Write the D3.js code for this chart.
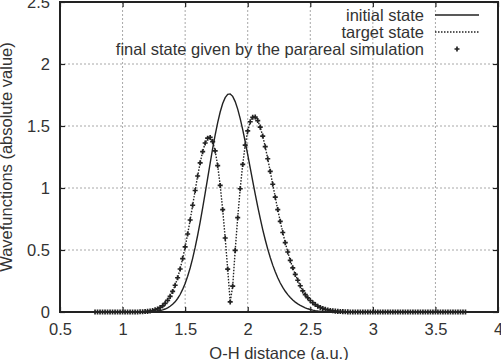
<!DOCTYPE html>
<html>
<head>
<meta charset="utf-8">
<script src="https://cdn.jsdelivr.net/npm/d3@7"></script>
<style>
  body { margin: 0; background: #fff; }
  svg { display: block; font-family: "Liberation Sans", Arial, sans-serif; }
</style>
</head>
<body>
<div id="chart"></div>
<script>
// O-H distance grid (a.u.)
const distance = [
  0.78,0.80,0.82,0.84,0.86,0.88,0.90,0.92,0.94,0.96,
  0.98,1.00,1.02,1.04,1.06,1.08,1.10,1.12,1.14,1.16,
  1.18,1.20,1.22,1.24,1.26,1.28,1.30,1.32,1.34,1.36,
  1.38,1.40,1.42,1.44,1.46,1.48,1.50,1.52,1.54,1.56,
  1.58,1.60,1.62,1.64,1.66,1.68,1.70,1.72,1.74,1.76,
  1.78,1.80,1.82,1.84,1.86,1.88,1.90,1.92,1.94,1.96,
  1.98,2.00,2.02,2.04,2.06,2.08,2.10,2.12,2.14,2.16,
  2.18,2.20,2.22,2.24,2.26,2.28,2.30,2.32,2.34,2.36,
  2.38,2.40,2.42,2.44,2.46,2.48,2.50,2.52,2.54,2.56,
  2.58,2.60,2.62,2.64,2.66,2.68,2.70,2.72,2.74,2.76,
  2.78,2.80,2.82,2.84,2.86,2.88,2.90,2.92,2.94,2.96,
  2.98,3.00,3.02,3.04,3.06,3.08,3.10,3.12,3.14,3.16,
  3.18,3.20,3.22,3.24,3.26,3.28,3.30,3.32,3.34,3.36,
  3.38,3.40,3.42,3.44,3.46,3.48,3.50,3.52,3.54,3.56,
  3.58,3.60,3.62,3.64,3.66,3.68,3.70,3.72,3.74
];

const initialState = [
  0,0,0,0,0,0,0,0,0,0,
  0,0,0,0,0,0,0,0,0,0,
  0.001,0.002,0.003,0.004,0.006,0.008,0.012,0.017,0.024,0.033,
  0.046,0.062,0.082,0.109,0.141,0.182,0.230,0.288,0.355,0.433,
  0.521,0.619,0.725,0.839,0.958,1.080,1.201,1.319,1.429,1.528,
  1.613,1.681,1.729,1.755,1.759,1.739,1.697,1.636,1.560,1.471,
  1.373,1.269,1.163,1.056,0.951,0.850,0.755,0.665,0.583,0.507,
  0.439,0.378,0.324,0.276,0.234,0.198,0.167,0.140,0.117,0.097,
  0.080,0.066,0.054,0.044,0.034,0.026,0.020,0.015,0.011,0.008,
  0.006,0.004,0.003,0.002,0.001,0,0,0,0,0,
  0,0,0,0,0,0,0,0,0,0,
  0,0,0,0,0,0,0,0,0,0,
  0,0,0,0,0,0,0,0,0,0,
  0,0,0,0,0,0,0,0,0,0,
  0,0,0,0,0,0,0,0,0
];

const targetState = [
  0,0,0,0,0,0,0,0,0,0,
  0,0,0,0,0,0,0,0,0.002,0.002,
  0.004,0.005,0.008,0.012,0.018,0.025,0.036,0.050,0.070,0.094,
  0.126,0.166,0.216,0.276,0.347,0.431,0.525,0.629,0.742,0.861,
  0.980,1.097,1.203,1.293,1.363,1.402,1.408,1.374,1.299,1.181,
  1.021,0.825,0.597,0.346,0.081,0.209,0.497,0.761,0.994,1.190,
  1.346,1.460,1.534,1.570,1.572,1.544,1.491,1.419,1.333,1.236,
  1.134,1.030,0.926,0.826,0.731,0.641,0.559,0.484,0.416,0.356,
  0.303,0.256,0.212,0.170,0.140,0.115,0.093,0.075,0.060,0.047,
  0.037,0.029,0.022,0.017,0.013,0.010,0.007,0.005,0.004,0.003,
  0.002,0.001,0,0,0,0,0,0,0,0,
  0,0,0,0,0,0,0,0,0,0,
  0,0,0,0,0,0,0,0,0,0,
  0,0,0,0,0,0,0,0,0,0,
  0,0,0,0,0,0,0,0,0
];

// parareal result lies on top of the target curve
const finalState = targetState;

const xTicks = [0.5, 1, 1.5, 2, 2.5, 3, 3.5, 4];
const xTickLabels = ["0.5", "1", "1.5", "2", "2.5", "3", "3.5", "4"];
const yTicks = [0, 0.5, 1, 1.5, 2, 2.5];
const yTickLabels = ["0", "0.5", "1", "1.5", "2", "2.5"];
const legendLabels = ["initial state", "target state", "final state given by the parareal simulation"];

const width = 501, height = 360;
const margin = {top: 2, right: 3, bottom: 48, left: 60};
const ink = "#222";
const fontSize = "16.5px";

const x = d3.scaleLinear().domain([0.5, 4]).range([margin.left, width - margin.right]);
const y = d3.scaleLinear().domain([0, 2.5]).range([height - margin.bottom, margin.top]);

const svg = d3.select("#chart")
  .append("svg")
  .attr("width", width)
  .attr("height", height);

// grid
const grid = svg.append("g")
  .attr("stroke", "#a8a8a8")
  .attr("stroke-width", 1)
  .attr("stroke-dasharray", "2,2");

grid.selectAll(".vgrid")
  .data(xTicks.slice(1, -1))
  .join("line")
  .attr("x1", d => x(d)).attr("x2", d => x(d))
  .attr("y1", y(0)).attr("y2", y(2.5));

grid.selectAll(".hgrid")
  .data(yTicks.slice(1, -1))
  .join("line")
  .attr("y1", d => y(d)).attr("y2", d => y(d))
  .attr("x1", x(0.5)).attr("x2", x(4));

// curves
const pts = (vals) => distance.map((d, i) => [d, vals[i]]);
const line = d3.line().x(d => x(d[0])).y(d => y(d[1]));

svg.append("path")
  .datum(pts(initialState))
  .attr("fill", "none")
  .attr("stroke", ink)
  .attr("stroke-width", 1.4)
  .attr("d", line);

svg.append("path")
  .datum(pts(targetState))
  .attr("fill", "none")
  .attr("stroke", ink)
  .attr("stroke-width", 1.4)
  .attr("stroke-dasharray", "1.5,1.5")
  .attr("d", line);

const marker = d3.symbol().type(d3.symbolCross).size(14);

svg.append("g")
  .selectAll("path")
  .data(pts(finalState))
  .join("path")
  .attr("transform", d => `translate(${x(d[0])},${y(d[1])})`)
  .attr("d", marker)
  .attr("fill", ink);

// axes (ticks point inward on all four sides)
const fmtX = d => xTickLabels[xTicks.indexOf(d)];
const fmtY = d => yTickLabels[yTicks.indexOf(d)];

const styleAxis = g => {
  g.select(".domain").remove();
  g.selectAll(".tick line").attr("stroke", ink).attr("stroke-width", 1.2);
  g.selectAll(".tick text")
    .attr("fill", "#333")
    .style("font-size", fontSize)
    .style("font-family", "'Liberation Sans', Arial, sans-serif");
};

svg.append("g")
  .attr("transform", `translate(0,${y(0)})`)
  .call(d3.axisBottom(x).tickValues(xTicks).tickFormat(fmtX).tickSize(-5).tickPadding(11))
  .call(styleAxis);

svg.append("g")
  .attr("transform", `translate(${x(0.5)},0)`)
  .call(d3.axisLeft(y).tickValues(yTicks).tickFormat(fmtY).tickSize(-5).tickPadding(10))
  .call(styleAxis);

svg.append("g")
  .attr("transform", `translate(0,${y(2.5)})`)
  .call(d3.axisTop(x).tickValues(xTicks).tickFormat("").tickSize(-5))
  .call(styleAxis);

svg.append("g")
  .attr("transform", `translate(${x(4)},0)`)
  .call(d3.axisRight(y).tickValues(yTicks).tickFormat("").tickSize(-5))
  .call(styleAxis);

// frame
svg.append("rect")
  .attr("x", x(0.5)).attr("y", y(2.5))
  .attr("width", x(4) - x(0.5))
  .attr("height", y(0) - y(2.5))
  .attr("fill", "none")
  .attr("stroke", ink)
  .attr("stroke-width", 2);

// axis titles
svg.append("text")
  .attr("x", (x(0.5) + x(4)) / 2)
  .attr("y", 359)
  .attr("text-anchor", "middle")
  .attr("fill", "#333")
  .style("font-size", fontSize)
  .text("O-H distance (a.u.)");

svg.append("text")
  .attr("transform", `translate(12,${(y(0) + y(2.5)) / 2}) rotate(-90)`)
  .attr("text-anchor", "middle")
  .attr("fill", "#333")
  .style("font-size", fontSize)
  .text("Wavefunctions (absolute value)");

// legend
const legend = svg.append("g").attr("transform", "translate(0,15)");
const rowH = 17;

legend.selectAll("text")
  .data(legendLabels)
  .join("text")
  .attr("x", 424)
  .attr("y", (d, i) => i * rowH + 5.5)
  .attr("text-anchor", "end")
  .attr("fill", "#333")
  .style("font-size", fontSize)
  .text(d => d);

legend.append("line")
  .attr("x1", 435).attr("x2", 479)
  .attr("y1", 0).attr("y2", 0)
  .attr("stroke", ink).attr("stroke-width", 1.4);

legend.append("line")
  .attr("x1", 435).attr("x2", 479)
  .attr("y1", rowH).attr("y2", rowH)
  .attr("stroke", ink).attr("stroke-width", 1.4)
  .attr("stroke-dasharray", "1.5,1.5");

legend.append("path")
  .attr("transform", `translate(457,${2 * rowH})`)
  .attr("d", marker)
  .attr("fill", ink);
</script>
</body>
</html>
